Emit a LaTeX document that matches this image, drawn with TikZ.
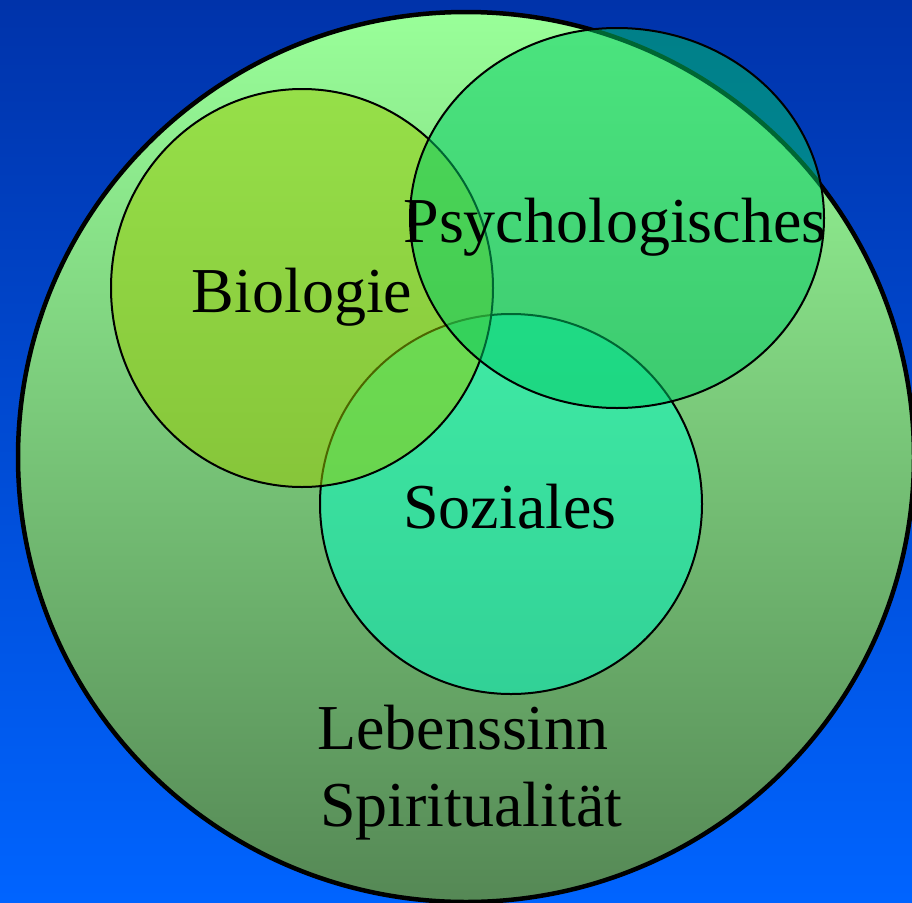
\documentclass[tikz,border=0pt]{standalone}
\usepackage{fontspec}
\setmainfont{Liberation Serif}
\definecolor{bgtop}{RGB}{0,51,170}
\definecolor{bgbot}{RGB}{0,100,255}
\definecolor{bigtop}{RGB}{153,255,153}
\definecolor{bigbot}{RGB}{85,136,85}
\definecolor{biocol}{RGB}{153,204,0}
\definecolor{psycol}{RGB}{0,204,102}
\definecolor{sozcol}{RGB}{0,255,200}
\tikzset{
  lbl/.style={font=\fontsize{64}{70}\selectfont, inner sep=0pt, text=black},
}
\begin{document}
\begin{tikzpicture}[x=1pt,y=-1pt]
\useasboundingbox (0,0) rectangle (912,902);
\begin{scope}
\clip (0,0) rectangle (912,902);
\shade[top color=bgtop, bottom color=bgbot] (0,0) rectangle (912,902);
\shade[top color=bigtop, bottom color=bigbot] (466,457) ellipse [x radius=448, y radius=445];
\draw[line width=4.5pt] (466,457) ellipse [x radius=448, y radius=445];
\fill[sozcol, fill opacity=0.5] (511,504) ellipse [x radius=191, y radius=190];
\draw[line width=2pt] (511,504) ellipse [x radius=191, y radius=190];
\fill[biocol, fill opacity=0.5] (302,288) ellipse [x radius=191, y radius=199];
\draw[line width=2pt] (302,288) ellipse [x radius=191, y radius=199];
\fill[psycol, fill opacity=0.5] (617,218) ellipse [x radius=207, y radius=190];
\draw[line width=2pt] (617,218) ellipse [x radius=207, y radius=190];
\end{scope}
\node[lbl, anchor=base] (bio) at (302,312) {Biologie};
\node[lbl, anchor=base] (psy) at (615,242) {Psychologisches};
\node[lbl, anchor=base] (soz) at (510,528) {Soziales};
\node[lbl, anchor=base west] (leb) at (317,749) {Lebenssinn};
\node[lbl, anchor=base west] (spi) at (320,826) {Spiritualität};
\end{tikzpicture}
\end{document}
